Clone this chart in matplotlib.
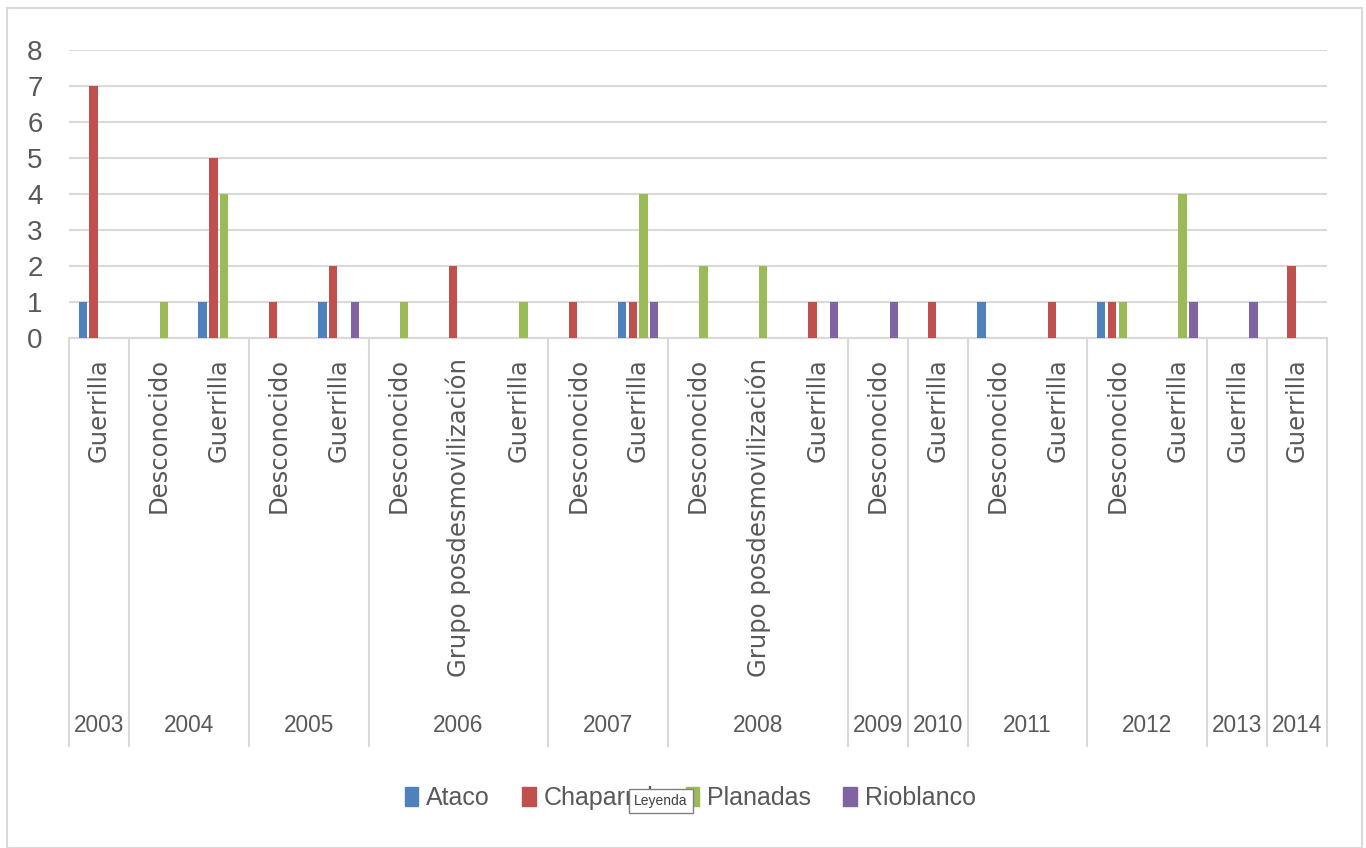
import matplotlib.pyplot as plt
from matplotlib.patches import Patch, Rectangle

# Data
years = ['2003', '2004', '2005', '2006', '2007', '2008',
         '2009', '2010', '2011', '2012', '2013', '2014']
actors = [
    ['Guerrilla'],
    ['Desconocido', 'Guerrilla'],
    ['Desconocido', 'Guerrilla'],
    ['Desconocido', 'Grupo posdesmovilización', 'Guerrilla'],
    ['Desconocido', 'Guerrilla'],
    ['Desconocido', 'Grupo posdesmovilización', 'Guerrilla'],
    ['Desconocido'],
    ['Guerrilla'],
    ['Desconocido', 'Guerrilla'],
    ['Desconocido', 'Guerrilla'],
    ['Guerrilla'],
    ['Guerrilla'],
]
series_names = ['Ataco', 'Chaparral', 'Planadas', 'Rioblanco']
ataco     = [1, 0, 1, 0, 1, 0, 0, 0, 0, 1, 0, 0, 0, 0, 0, 1, 0, 1, 0, 0, 0]
chaparral = [7, 0, 5, 1, 2, 0, 2, 0, 1, 1, 0, 0, 1, 0, 1, 0, 1, 1, 0, 0, 2]
planadas  = [0, 1, 4, 0, 0, 1, 0, 1, 0, 4, 2, 2, 0, 0, 0, 0, 0, 1, 4, 0, 0]
rioblanco = [0, 0, 0, 0, 1, 0, 0, 0, 0, 1, 0, 0, 1, 1, 0, 0, 0, 0, 1, 1, 0]

colors = ['#4F81BD', '#C0504D', '#9BBB59', '#8064A2']
text_color = '#595959'
line_color = '#D9D9D9'
narrow = 'Liberation Sans'

W, H = 1366, 848
fig = plt.figure(figsize=(W / 100, H / 100), dpi=100)

# outer chart frame
fig.patches.append(Rectangle((7 / W, 0), (1362 - 7) / W, 1 - 8 / H,
                             transform=fig.transFigure, fill=False,
                             edgecolor=line_color, linewidth=1.5))

ax = fig.add_axes([69 / W, 1 - 338 / H, (1327 - 69) / W, 288 / H])

labels = [a for group in actors for a in group]
n = len(labels)
x = [i + 0.5 for i in range(n)]
step, width = 0.18, 0.14
for k, vals in enumerate([ataco, chaparral, planadas, rioblanco]):
    ax.bar([xi + (k - 1.5) * step for xi in x], vals, width=width,
           color=colors[k], zorder=3)

ax.set_xlim(0, n)
ax.set_ylim(0, 8)
ax.set_yticks(range(9))
ax.tick_params(axis='y', length=0, pad=19, labelsize=20, labelcolor=text_color)
for t in ax.get_yticklabels():
    t.set_fontfamily(narrow)
ax.set_xticks([])
ax.grid(axis='y', color=line_color, linewidth=1.5, zorder=0)
for s in ['left', 'right', 'top']:
    ax.spines[s].set_visible(False)
ax.spines['bottom'].set_color(line_color)
ax.spines['bottom'].set_linewidth(1.5)

tr = ax.get_xaxis_transform()
# inner category labels (rotated)
for xi, lab in zip(x, labels):
    ax.text(xi, -20 / 288, lab, transform=tr, rotation=90, ha='center', va='top',
            fontsize=17.5, color=text_color, family='DejaVu Sans')

# year labels and separators
pos = 0
ax.plot([0, 0], [0, -408 / 288], transform=tr, color=line_color, lw=1.5, clip_on=False)
for yr, group in zip(years, actors):
    start = pos
    pos += len(group)
    ax.plot([pos, pos], [0, -408 / 288], transform=tr, color=line_color,
            lw=1.5, clip_on=False)
    ax.text((start + pos) / 2, -388 / 288, yr, transform=tr, ha='center',
            va='center', fontsize=16.3, color=text_color, family=narrow)

handles = [Patch(color=c, label=s) for c, s in zip(colors, series_names)]
leg = fig.legend(handles=handles, loc='center', ncol=4,
                 bbox_to_anchor=(690 / W, 1 - 798 / H), frameon=False,
                 prop={'family': narrow, 'size': 18},
                 handlelength=0.55, handleheight=0.8, handletextpad=0.3,
                 columnspacing=1.3)
for t in leg.get_texts():
    t.set_color(text_color)

# "Leyenda" tooltip box over the legend
fig.text(661 / W, 1 - 801 / H, 'Leyenda', ha='center', va='center',
         fontsize=10, family=narrow, color='#404040', zorder=10,
         bbox=dict(boxstyle='square,pad=0.35', facecolor='white',
                   edgecolor='#808080', linewidth=1))

fig.savefig('out.png', dpi=100)
